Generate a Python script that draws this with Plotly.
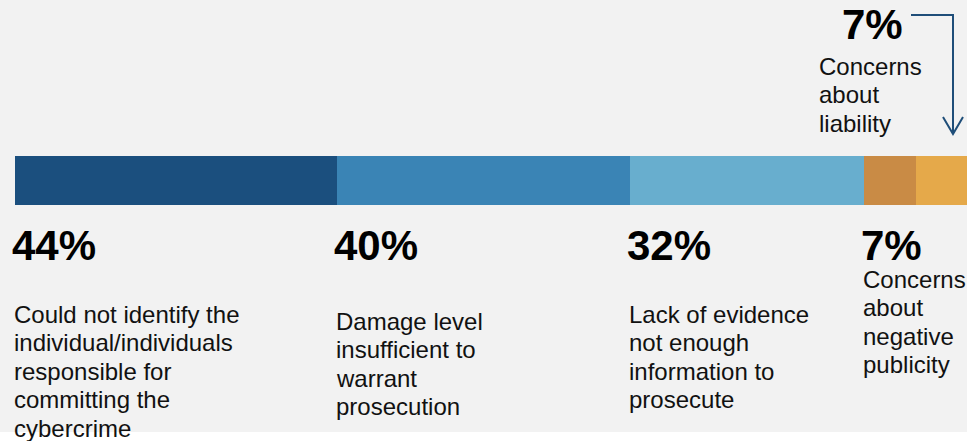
import plotly.graph_objects as go

# Reasons for not reporting cybercrime (share of respondents)
reasons = [
    ["Could not identify the", "individual/individuals", "responsible for",
     "committing the", "cybercrime"],
    ["Damage level", "insufficient to", "warrant", "prosecution"],
    ["Lack of evidence", "not enough", "information to", "prosecute"],
    ["Concerns", "about", "negative", "publicity"],
    ["Concerns", "about", "liability"],
]
values = [44, 40, 32, 7, 7]
pct_labels = [f"{v}%" for v in values]

colors = ["#1B4F7E", "#3A84B5", "#68AECE", "#C98B45", "#E5A94A"]

W, H = 967, 441
BAR_LEFT = 15          # px where the bar starts
BAR_Y, BAR_H = 180.5, 49
FONT = "Liberation Sans, Arial, Helvetica, sans-serif"
ARROW_COLOR = "#1F4E79"
LINE_GAP = 28.5        # px between description lines
PCT_SIZE, DESC_SIZE = 42, 24

total = sum(values)
px_per_unit = (W - BAR_LEFT) / total
x_min = -BAR_LEFT / px_per_unit


def px(xpix):
    """Horizontal pixel position -> x-axis value."""
    return x_min + xpix / px_per_unit


fig = go.Figure()
for v, c, lines in zip(values, colors, reasons):
    fig.add_trace(go.Bar(
        orientation="h", x=[v], y=[BAR_Y], width=BAR_H,
        marker=dict(color=c, line=dict(width=0)),
        name=" ".join(lines), showlegend=False, hoverinfo="skip",
    ))

starts = [sum(values[:i]) for i in range(len(values))]


def desc_block(x, first_y, lines, xshift=0):
    return [dict(
        x=x, y=first_y + k * LINE_GAP, xref="x", yref="y", xanchor="left",
        yanchor="middle", xshift=xshift, text=line, showarrow=False,
        font=dict(family=FONT, size=DESC_SIZE, color="#111111"),
    ) for k, line in enumerate(lines)]


annotations = []
first_line_y = [314, 321, 314, 279]
for i in range(4):
    annotations.append(dict(
        x=starts[i], y=245, xref="x", yref="y", xanchor="left", yanchor="middle",
        xshift=-5, text=f"<b>{pct_labels[i]}</b>", showarrow=False,
        font=dict(family=FONT, size=PCT_SIZE, color="#000000"),
    ))
    annotations += desc_block(starts[i], first_line_y[i], reasons[i], xshift=-3)

# Label for the last segment sits above the bar, with an elbow arrow
annotations.append(dict(
    x=px(872), y=24, xref="x", yref="y", xanchor="center", yanchor="middle",
    text=f"<b>{pct_labels[4]}</b>", showarrow=False,
    font=dict(family=FONT, size=PCT_SIZE, color="#000000"),
))
annotations += desc_block(px(817), 66, reasons[4])

shapes = [
    dict(type="rect", xref="paper", yref="y", x0=0, x1=1, y0=0, y1=432,
         fillcolor="#F2F2F2", line=dict(width=0), layer="below"),
    dict(type="path", xref="x", yref="y",
         path=f"M {px(911)} 15 L {px(953)} 15 L {px(953)} 134",
         line=dict(color=ARROW_COLOR, width=2)),
    dict(type="path", xref="x", yref="y",
         path=f"M {px(943)} 117 L {px(953)} 134 L {px(963)} 117",
         line=dict(color=ARROW_COLOR, width=2)),
]

fig.update_layout(
    width=W, height=H, margin=dict(l=0, r=0, t=0, b=0),
    paper_bgcolor="#FFFFFF", plot_bgcolor="rgba(0,0,0,0)",
    barmode="stack", bargap=0,
    xaxis=dict(range=[x_min, total], visible=False, fixedrange=True),
    yaxis=dict(range=[H, 0], visible=False, fixedrange=True),
    annotations=annotations, shapes=shapes,
)

fig.write_html("out.html")
